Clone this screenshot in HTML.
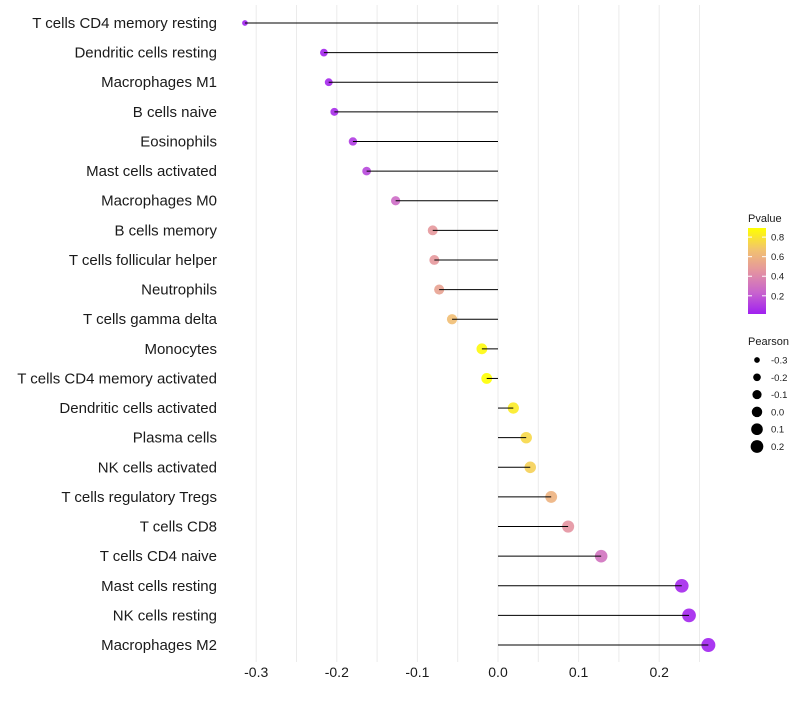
<!DOCTYPE html>
<html><head><meta charset="utf-8"><style>
body{margin:0;background:#fff;font-family:"Liberation Sans",sans-serif}
svg text{font-family:"Liberation Sans",sans-serif}
</style></head><body>
<svg id="chart" width="800" height="700" xmlns="http://www.w3.org/2000/svg"></svg>
<script>
const categories=["T cells CD4 memory resting","Dendritic cells resting","Macrophages M1","B cells naive","Eosinophils","Mast cells activated","Macrophages M0","B cells memory","T cells follicular helper","Neutrophils","T cells gamma delta","Monocytes","T cells CD4 memory activated","Dendritic cells activated","Plasma cells","NK cells activated","T cells regulatory  Tregs ","T cells CD8","T cells CD4 naive","Mast cells resting","NK cells resting","Macrophages M2"];
const pearson=[-0.314,-0.216,-0.210,-0.203,-0.180,-0.163,-0.127,-0.081,-0.079,-0.073,-0.057,-0.020,-0.014,0.019,0.035,0.040,0.066,0.087,0.128,0.228,0.237,0.261];
const pvalue=[0.02,0.03,0.04,0.05,0.1,0.14,0.27,0.47,0.47,0.52,0.65,0.87,0.9,0.82,0.75,0.72,0.6,0.45,0.3,0.04,0.03,0.02];
const xTicks=[-0.3,-0.2,-0.1,0.0,0.1,0.2];
const xTickLabels=["-0.3","-0.2","-0.1","0.0","0.1","0.2"];
const pTicks=[0.2,0.4,0.6,0.8];
const sizeTicks=[-0.3,-0.2,-0.1,0.0,0.1,0.2];

const NS="http://www.w3.org/2000/svg";
const svg=document.getElementById('chart');
function mk(t,a,p){const e=document.createElementNS(NS,t);for(const k in a)e.setAttribute(k,a[k]);(p||svg).appendChild(e);return e;}
const X=v=>498+v*806;
const Y=i=>23+i*29.62;
const R=v=>Math.sqrt(Math.max(3,30.4+71.3*v));
const pMin=0.014,pMax=0.893;
const stops=[[0,[160,32,240]],[0.25,[200,100,205]],[0.5,[228,148,160]],[0.75,[242,195,110]],[1,[255,255,0]]];
function col(p){let t=(p-pMin)/(pMax-pMin);t=Math.max(0,Math.min(1,t));for(let i=1;i<stops.length;i++){if(t<=stops[i][0]){const a=stops[i-1],b=stops[i];const f=(t-a[0])/(b[0]-a[0]);const c=a[1].map((x,j)=>Math.round(x+(b[1][j]-x)*f));return `rgb(${c})`;}}return 'rgb(255,255,0)';}

const grid=mk('g',{});


for(let v=-0.35;v<=0.26;v+=0.05){const x=X(Math.round(v*100)/100);if(x<225||x>725)continue;mk('line',{x1:x,x2:x,y1:5,y2:662,stroke:'#ebebeb','stroke-width':1},grid);}
xTicks.forEach((v,i)=>{const t=mk('text',{x:X(v),y:677,'text-anchor':'middle','font-size':14,fill:'#1a1a1a'});t.textContent=xTickLabels[i];

});
categories.forEach((c,i)=>{const y=Y(i);
const lab=mk('text',{x:217,y:y+5,'text-anchor':'end','font-size':15,fill:'#1a1a1a'});lab.textContent=c;


const pt=mk('circle',{cx:X(pearson[i]),cy:y,r:R(pearson[i]),fill:col(pvalue[i]),'fill-opacity':0.9});


const seg=mk('line',{x1:X(0),x2:X(pearson[i]),y1:y,y2:y,stroke:'#000','stroke-width':1});


});
const lg=mk('g',{});


const lt=mk('text',{x:748,y:222,'font-size':11,fill:'#1a1a1a'},lg);lt.textContent='Pvalue';
const defs=mk('defs',{});const gr=mk('linearGradient',{id:'pg',x1:0,y1:1,x2:0,y2:0},defs);
stops.forEach(s=>mk('stop',{offset:s[0],'stop-color':`rgb(${s[1]})`},gr));
mk('rect',{x:748,y:228,width:18,height:86,fill:'url(#pg)'},lg);
const pY=p=>314-(p-pMin)/(pMax-pMin)*86;
pTicks.forEach(p=>{const y=pY(p);mk('line',{x1:748,x2:752,y1:y,y2:y,stroke:'#fff'},lg);mk('line',{x1:762,x2:766,y1:y,y2:y,stroke:'#fff'},lg);
const t=mk('text',{x:771,y:y+3.5,'font-size':9.5,fill:'#1a1a1a'},lg);t.textContent=p.toFixed(1);});
const sg=mk('g',{});


const st=mk('text',{x:748,y:345,'font-size':11,fill:'#1a1a1a'},sg);st.textContent='Pearson';
sizeTicks.forEach((v,i)=>{const y=360+i*17.3;mk('circle',{cx:757,cy:y,r:R(v)*0.95,fill:'#000'},sg);
const t=mk('text',{x:771,y:y+3.5,'font-size':9.5,fill:'#1a1a1a'},sg);t.textContent=v.toFixed(1);});
</script>
</body></html>
